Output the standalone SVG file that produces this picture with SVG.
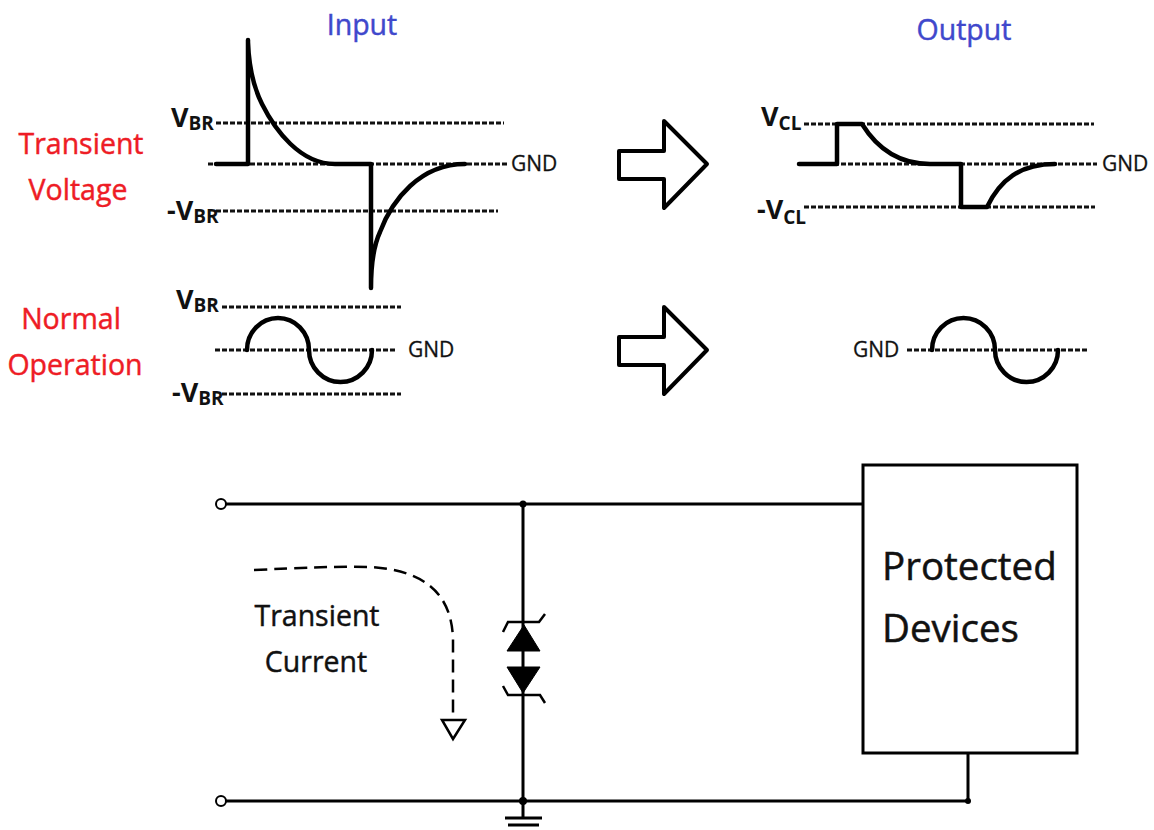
<svg xmlns="http://www.w3.org/2000/svg" width="1154" height="830" viewBox="0 0 1154 830">
<style>
text{font-family:"Open Sans","Noto Sans","Liberation Sans",sans-serif}
.t{font-size:28.5px;text-anchor:middle;stroke-width:.45}
.k{fill:#111;stroke:#111}
.red{fill:#ee1c25;stroke:#ee1c25}
.blue{fill:#3f48cc;stroke:#3f48cc}
.g{font-size:21px;fill:#111;stroke:#111;stroke-width:.3}
.v{font-size:27px;font-weight:700;fill:#111}
.s{font-size:19px;font-weight:700;fill:#111}
.d{fill:none;stroke:#111;stroke-width:3;stroke-dasharray:5 2}
.w{fill:none;stroke:#000;stroke-width:4.5;stroke-linecap:round;stroke-linejoin:round}
.a{fill:#fff;stroke:#000;stroke-width:4;stroke-linejoin:round}
.c{fill:none;stroke:#000;stroke-width:3}
</style>
<rect width="1154" height="830" fill="#fff"/>
<g id="titles">
<text class="t blue" x="362" y="35">Input</text>
<text class="t blue" x="964" y="40">Output</text>
<text class="t red" x="81" y="154">Transient</text>
<text class="t red" x="78" y="200">Voltage</text>
<text class="t red" x="71" y="329">Normal</text>
<text class="t red" x="75" y="375">Operation</text>
</g>
<g id="connectors">
<path class="d" d="M216 123H504M208 164H507M216 211H498M222 307H401M215 350H395M222 394H401"/>
<path class="d" d="M804 124H1094M799 164H1097M804 207H1095M907 350H1087"/>
<path class="c" d="M221 504H863M221 801H968V753M523 504V801M523 801V817"/>
<path class="c" d="M505 818H542M508 825H539"/>
<path d="M254 570C300 568 340 566 370 567C420 570 452 590 453 640V718" fill="none" stroke="#000" stroke-width="2.5" stroke-dasharray="13 7"/>
</g>
<g id="input-transient">
<path class="w" d="M216 164H248V40M248 42C249 70 254 88 262 104C275 130 300 164 335 164H371V288M371 288C371 262 374 245 380 232C392 200 420 164 465 164"/>
<text class="v" x="171" y="127">V<tspan class="s" dy="3">BR</tspan></text>
<text class="v" x="167" y="220">-V<tspan class="s" dy="3">BR</tspan></text>
<text class="g" x="511" y="171">GND</text>
</g>
<g id="input-normal">
<path class="w" d="M247 350A31 32 0 0 1 309 350A31.500 32 0 0 0 372 350"/>
<text class="v" x="176" y="309">V<tspan class="s" dy="3">BR</tspan></text>
<text class="v" x="172" y="402">-V<tspan class="s" dy="3">BR</tspan></text>
<text class="g" x="408" y="357">GND</text>
</g>
<g id="arrow-1"><path class="a" d="M619 151H664V121L707 164L664 208V179H619Z"/></g>
<g id="arrow-2"><path class="a" d="M619 337H664V307L707 350L664 394V365H619Z"/></g>
<g id="output-transient">
<path class="w" d="M799 164H837V124H862C875 145 895 164 930 164H961V207H987C1000 180 1020 164 1055 164"/>
<text class="v" x="761" y="126">V<tspan class="s" dy="4">CL</tspan></text>
<text class="v" x="757" y="219">-V<tspan class="s" dy="5">CL</tspan></text>
<text class="g" x="1102" y="171">GND</text>
</g>
<g id="output-normal">
<path class="w" d="M932 350A31.500 32 0 0 1 995 350A31.500 32 0 0 0 1058 350"/>
<text class="g" x="853" y="357">GND</text>
</g>
<g id="terminal-top"><circle cx="221" cy="504" r="5" fill="#fff" stroke="#000" stroke-width="2"/></g>
<g id="terminal-bottom"><circle cx="221" cy="801" r="5" fill="#fff" stroke="#000" stroke-width="2"/></g>
<g id="junctions">
<circle cx="523" cy="504" r="3.500"/>
<circle cx="523" cy="801" r="4"/>
<circle cx="968" cy="801" r="3"/>
</g>
<g id="tvs-diode">
<path d="M524 625L507 651H540Z M507 667H540L523 693Z" fill="#000" stroke="#000" stroke-width="1"/>
<path d="M503 632L508 622H539L545 614M503 686L508 695H540L545 703" fill="none" stroke="#000" stroke-width="2.500"/>
</g>
<g id="current-label">
<text class="t k" x="317" y="626">Transient</text>
<text class="t k" x="316" y="672">Current</text>
<path d="M442 720H465L453 739Z" fill="#fff" stroke="#000" stroke-width="2.500"/>
</g>
<g id="protected-devices">
<rect x="863" y="465" width="214" height="288" fill="#fff" stroke="#000" stroke-width="3"/>
<text x="882" y="580" font-size="38.500" fill="#111" stroke="#111" stroke-width=".5">Protected</text>
<text x="882" y="642" font-size="38.500" fill="#111" stroke="#111" stroke-width=".5">Devices</text>
</g>
</svg>
